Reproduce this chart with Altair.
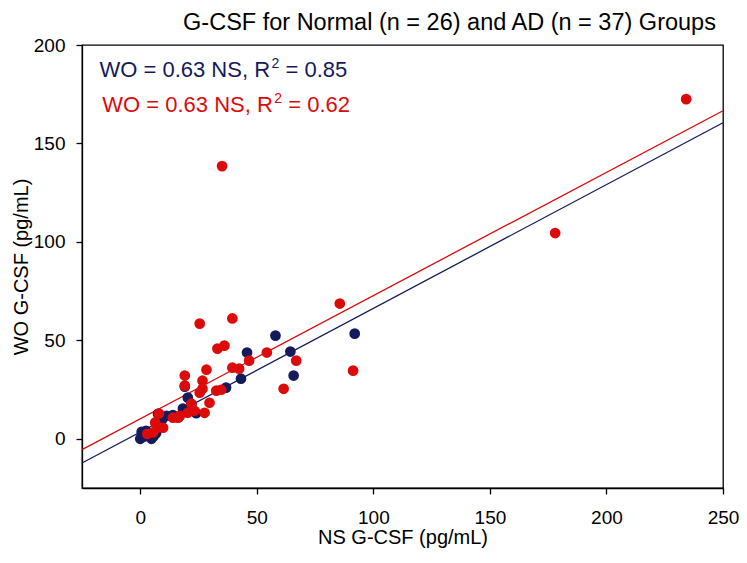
import altair as alt
import pandas as pd

# ---------------- data ----------------
normal_ns = [0.0, 0.6, 1.5, 3.0, 4.8, 5.6, 6.8, 7.6, 9.5, 11.3, 14.0, 16.5, 18.3,
             21.2, 20.4, 19.1, 22.0, 24.0, 36.8, 43.2, 45.8, 58.0, 64.4, 65.8, 92.0, 2.5]
normal_wo = [0.0, 3.5, 1.0, 2.0, 0.0, 1.2, 2.8, 12.7, 10.0, 11.7, 12.0, 11.0, 15.3,
             15.3, 20.9, 26.5, 17.5, 13.0, 26.0, 30.5, 43.8, 52.4, 44.3, 32.1, 53.4, 4.0]

ad_ns = [234.2, 178.0, 35.1, 85.6, 39.5, 25.5, 91.3, 66.9, 61.5, 54.3, 46.7, 39.5, 42.4,
         33.1, 36.1, 28.4, 26.7, 26.7, 32.6, 34.7, 29.7, 27.6, 19.1, 19.1, 20.4, 21.9,
         14.0, 16.1, 8.0, 5.5, 7.6, 9.8, 6.4, 17.0, 25.5, 3.0, 23.3]
ad_wo = [172.5, 104.5, 138.5, 68.7, 61.1, 58.5, 34.6, 39.7, 25.4, 43.8, 39.7, 36.1, 35.6,
         45.8, 47.3, 35.1, 29.5, 25.4, 24.4, 24.9, 18.3, 13.2, 32.1, 27.0, 13.2, 17.8,
         10.7, 10.7, 12.8, 3.2, 5.8, 5.6, 8.3, 11.7, 23.4, 2.5, 14.2]

# regression lines (end points)
fit_ns = [-25, 250]
normal_fit_wo = [-12.3, 160.5]
ad_fit_wo = [-5.5, 166.6]

# annotation texts
ann_main = ["WO = 0.63 NS, R", "WO = 0.63 NS, R"]
ann_sup = ["2", "2"]
ann_tail = ["= 0.85", "= 0.62"]
ann_ns = [-17.5, -16.3]
ann_wo = [184.0, 166.0]

x_ticks = [0, 50, 100, 150, 200, 250]
y_ticks = [0, 50, 100, 150, 200]

TITLE = "G-CSF for Normal (n = 26) and AD (n = 37) Groups"
X_TITLE = "NS G-CSF (pg/mL)"
Y_TITLE = "WO G-CSF (pg/mL)"

# ---------------- styling ----------------
NAVY = "#141a5c"
RED = "#dd0a0a"
FONT = "Liberation Sans"
W, H = 641, 443

normal_df = pd.DataFrame({"ns": normal_ns, "wo": normal_wo})
ad_df = pd.DataFrame({"ns": ad_ns, "wo": ad_wo})
fit_df = pd.DataFrame({
    "ns": fit_ns + fit_ns,
    "wo": normal_fit_wo + ad_fit_wo,
    "grp": ["Normal", "Normal", "AD", "AD"],
})
ann_df = pd.DataFrame({
    "ns": ann_ns, "wo": ann_wo,
    "main": ann_main, "sup": ann_sup, "tail": ann_tail,
    "col": [NAVY, RED],
})

xs = alt.Scale(domain=[-25, 250], nice=False, zero=False)
ys = alt.Scale(domain=[-25, 200], nice=False, zero=False)

x_axis = alt.Axis(values=x_ticks, grid=False, title=X_TITLE, tickSize=6,
                  labelPadding=14, titleX=W / 2, titleY=49,
                  titleBaseline="middle", titleAlign="center", labelFlush=False)
y_axis = alt.Axis(values=y_ticks, grid=False, title=Y_TITLE, tickSize=6,
                  labelPadding=11, titleX=-61, titleY=H / 2,
                  titleBaseline="middle", titleAlign="center", titleAngle=-90)

X = alt.X("ns:Q", scale=xs, axis=x_axis)
Y = alt.Y("wo:Q", scale=ys, axis=y_axis)

lines = alt.Chart(fit_df).mark_line(strokeWidth=1.3).encode(
    x=X, y=Y, detail="grp:N",
    color=alt.Color("grp:N", scale=alt.Scale(domain=["Normal", "AD"], range=[NAVY, RED]),
                    legend=None),
)

normal_pts = alt.Chart(normal_df).mark_circle(size=115, opacity=1, color=NAVY).encode(x=X, y=Y)
ad_pts = alt.Chart(ad_df).mark_circle(size=115, opacity=1, color=RED).encode(x=X, y=Y)

t_main = alt.Chart(ann_df).mark_text(align="left", baseline="alphabetic", fontSize=22,
                                     font=FONT).encode(
    x=X, y=Y, text="main:N", color=alt.Color("col:N", scale=None))
t_sup = alt.Chart(ann_df).mark_text(align="left", baseline="alphabetic", fontSize=14,
                                    font=FONT, dx=172, dy=-9).encode(
    x=X, y=Y, text="sup:N", color=alt.Color("col:N", scale=None))
t_tail = alt.Chart(ann_df).mark_text(align="left", baseline="alphabetic", fontSize=22,
                                     font=FONT, dx=186).encode(
    x=X, y=Y, text="tail:N", color=alt.Color("col:N", scale=None))

chart = alt.layer(lines, normal_pts, ad_pts, t_main, t_sup, t_tail).resolve_scale(
    color="independent"
).properties(
    width=W, height=H,
    title=alt.Title(TITLE, anchor="middle", frame="group", dx=47, offset=2,
                    fontSize=23.5, font=FONT, fontWeight="normal", color="black"),
    padding={"left": 74, "top": 37, "right": 16, "bottom": 62},
    autosize=alt.AutoSizeParams(type="none"),
).configure_view(
    stroke="black", strokeWidth=1.3
).configure_axis(
    domainColor="black", domainWidth=1.3, tickColor="black", tickWidth=1.3,
    labelColor="black", labelFont=FONT, labelFontSize=19,
    titleColor="black", titleFont=FONT, titleFontSize=20, titleFontWeight="normal",
)

chart.save("out.html", embed_options={"renderer": "svg", "actions": False})
